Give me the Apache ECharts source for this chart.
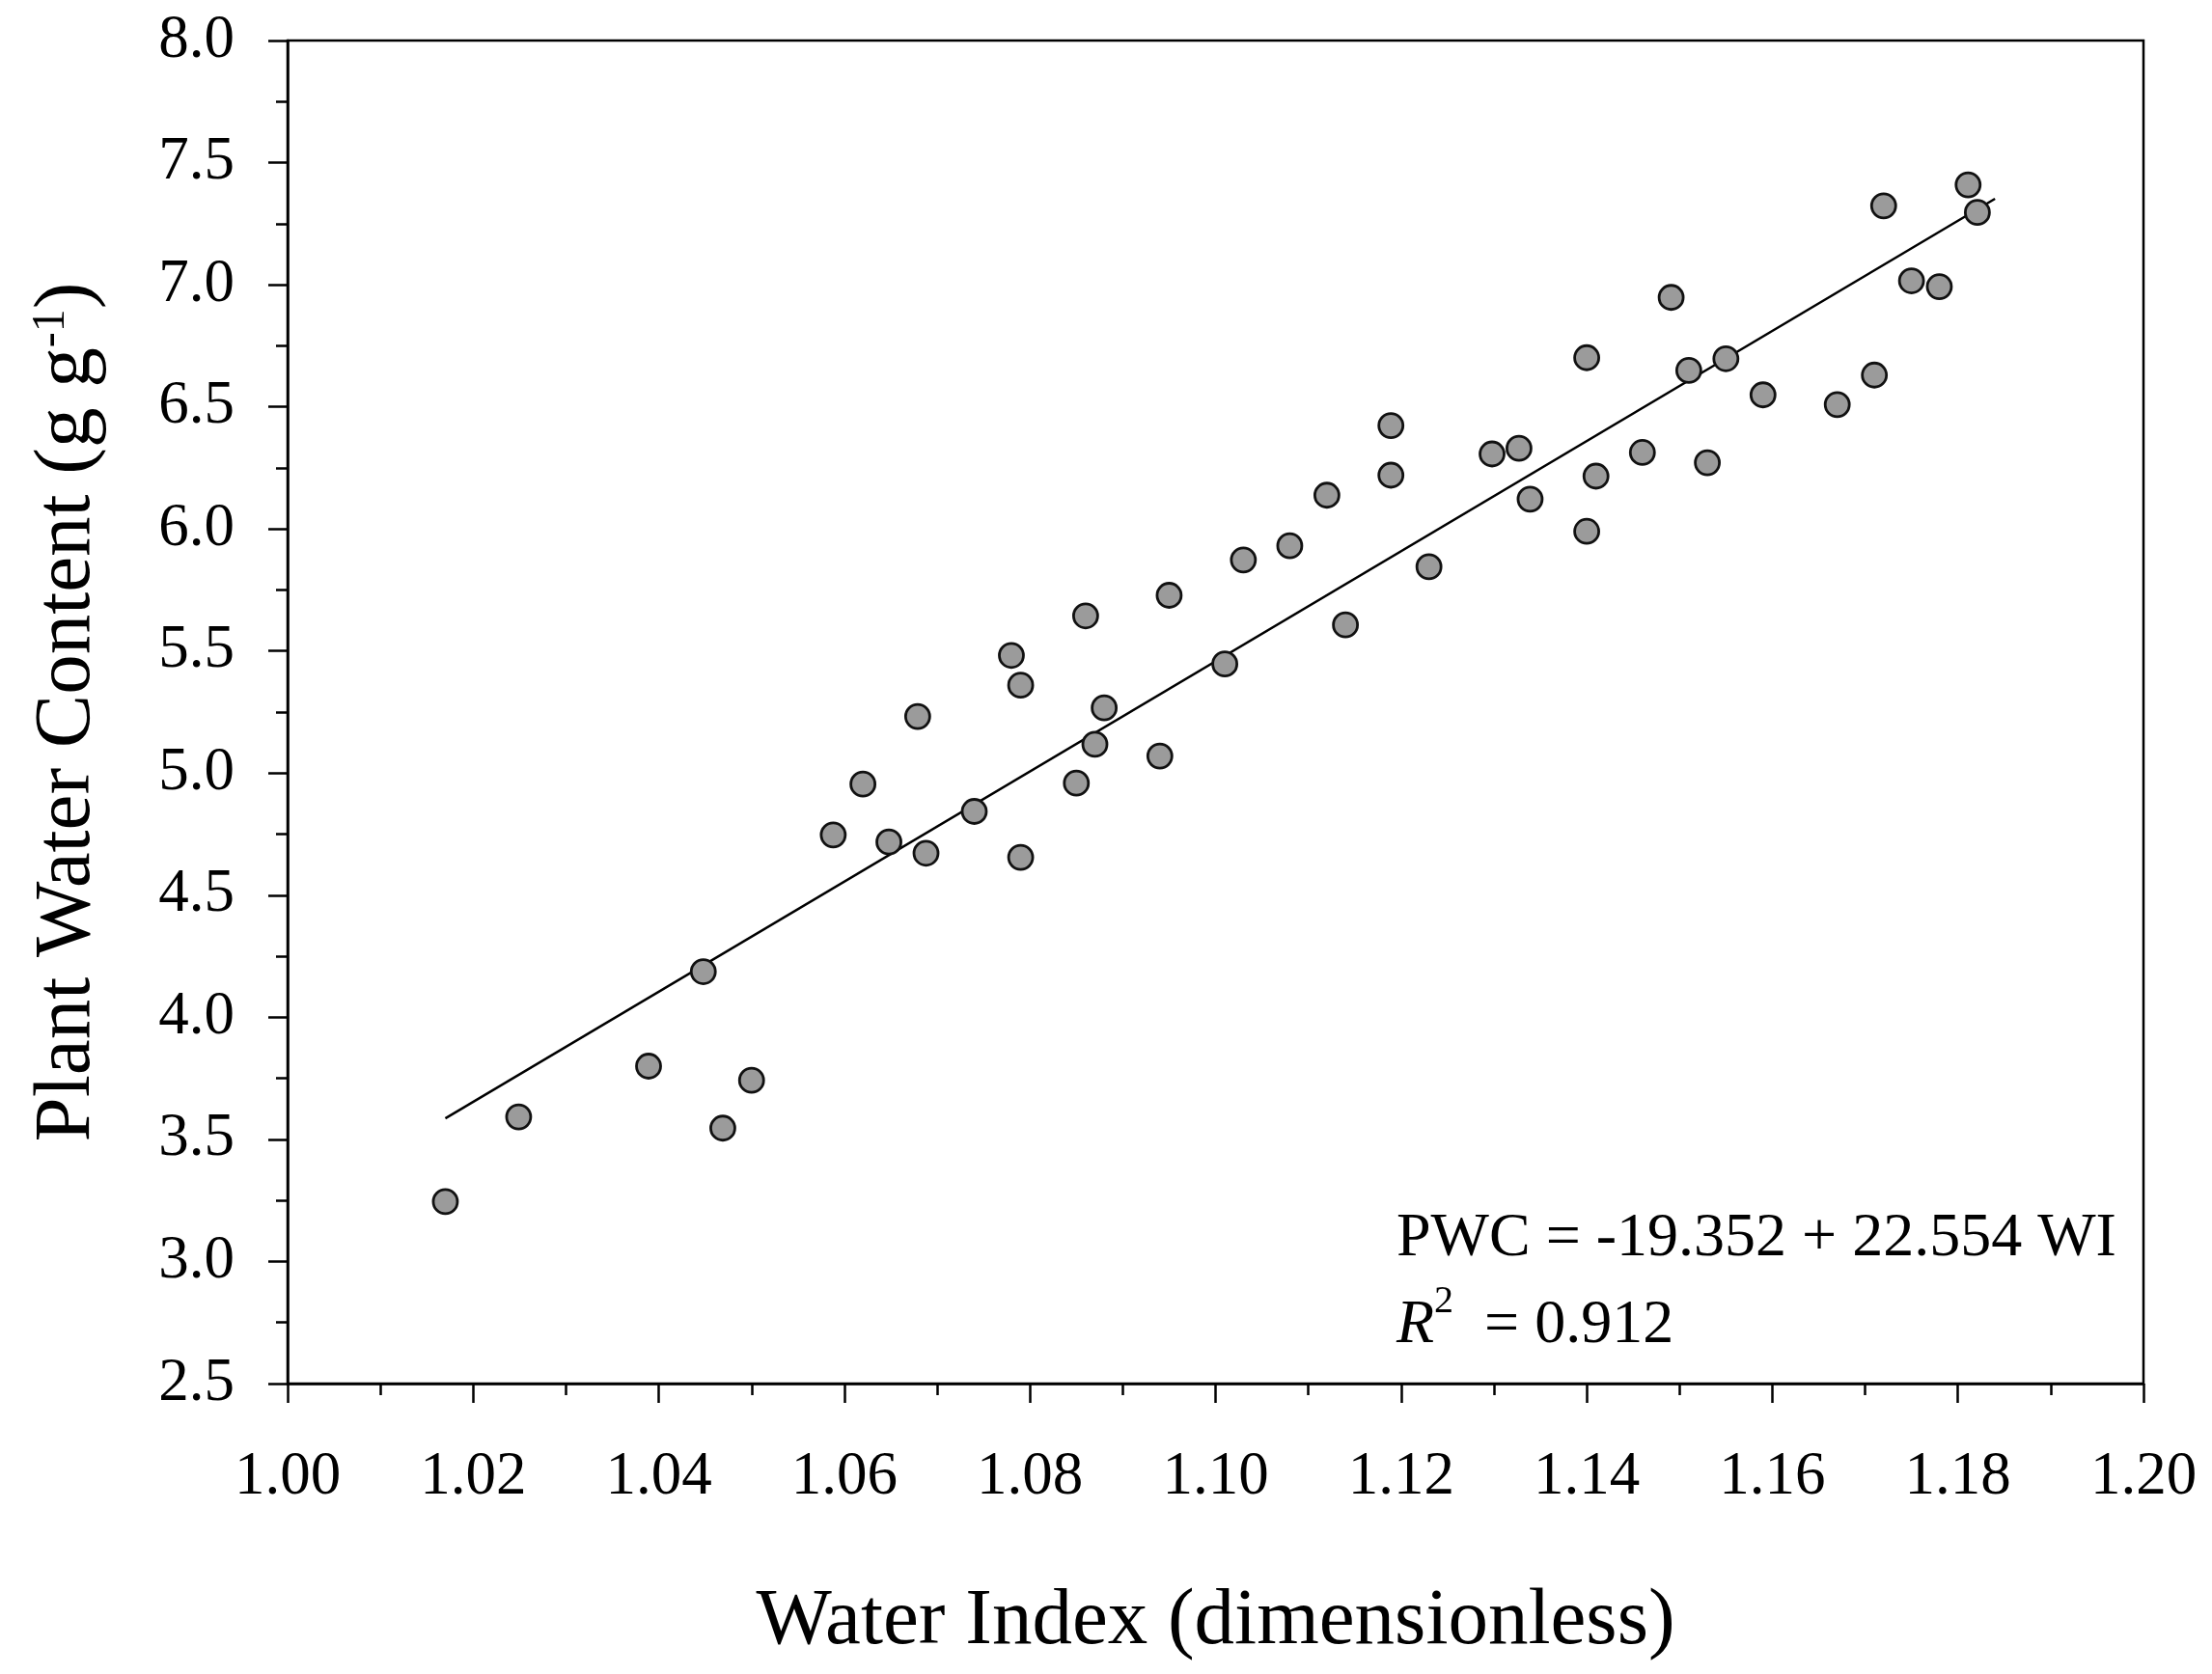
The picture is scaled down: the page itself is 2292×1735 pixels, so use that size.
<!DOCTYPE html>
<html>
<head>
    <meta charset="utf-8">
    <title>Plant Water Content vs Water Index</title>
    <script src="https://cdn.jsdelivr.net/npm/echarts@6/dist/echarts.min.js"></script>
    <style>
        html, body { margin: 0; padding: 0; background: #fff; }
        #main { width: 2292px; height: 1735px; }
    </style>
</head>
<body>
    <div id="main"></div>
    <script>
        // water index (x) and plant water content (y)
        var wi = [1.0170, 1.0249, 1.0389, 1.0448, 1.0469, 1.0500, 1.0588, 1.0620, 1.0648, 1.0679,
                  1.0688, 1.0740, 1.0780, 1.0790, 1.0790, 1.0850, 1.0860, 1.0870, 1.0880, 1.0940,
                  1.0950, 1.1010, 1.1030, 1.1080, 1.1120, 1.1140, 1.1189, 1.1189, 1.1230, 1.1298,
                  1.1327, 1.1339, 1.1400, 1.1400, 1.1410, 1.1460, 1.1491, 1.1510, 1.1530, 1.1550,
                  1.1590, 1.1670, 1.1710, 1.1720, 1.1750, 1.1780, 1.1811, 1.1821];
        var pwc = [3.245, 3.592, 3.800, 4.187, 3.546, 3.742, 4.747, 4.955, 4.718, 5.232,
                   4.672, 4.843, 5.482, 5.360, 4.655, 4.959, 5.644, 5.118, 5.267, 5.070,
                   5.728, 5.447, 5.873, 5.931, 6.138, 5.607, 6.423, 6.220, 5.845, 6.307,
                   6.330, 6.122, 6.701, 5.990, 6.216, 6.313, 6.948, 6.649, 6.271, 6.697,
                   6.549, 6.509, 6.630, 7.323, 7.016, 6.992, 7.409, 7.296];

        // fitted line end points
        var fitX = [1.017, 1.184];
        var fitY = [3.586, 7.352];

        // axis ticks
        var xTicks = [1.00, 1.02, 1.04, 1.06, 1.08, 1.10, 1.12, 1.14, 1.16, 1.18, 1.20];
        var yTicks = [2.5, 3.0, 3.5, 4.0, 4.5, 5.0, 5.5, 6.0, 6.5, 7.0, 7.5, 8.0];

        var eqLine = 'PWC = -19.352 + 22.554 WI';
        var r2Text = '  = 0.912';

        var FONT = '"Liberation Serif", "Times New Roman", serif';

        var points = wi.map(function (x, i) { return [x, pwc[i]]; });
        var fitLine = fitX.map(function (x, i) { return [x, fitY[i]]; });

        var myChart = echarts.init(document.getElementById('main'));
        myChart.setOption({
            animation: false,
            backgroundColor: '#fff',
            grid: {
                left: 298, top: 42, width: 1923, height: 1392,
                show: true, borderColor: '#000', borderWidth: 2.5, backgroundColor: 'transparent'
            },
            xAxis: {
                type: 'value',
                min: xTicks[0], max: xTicks[xTicks.length - 1], interval: 0.02,
                name: 'Water Index (dimensionless)',
                nameLocation: 'middle', nameGap: 206,
                nameTextStyle: { fontFamily: FONT, fontSize: 83, color: '#000' },
                axisLine: { onZero: false, lineStyle: { color: '#000', width: 2.5 } },
                axisTick: { show: true, inside: false, length: 20, lineStyle: { color: '#000', width: 2.5 } },
                minorTick: { show: true, splitNumber: 2, length: 12, lineStyle: { color: '#000', width: 2.5 } },
                splitLine: { show: false },
                axisLabel: {
                    margin: 66, fontFamily: FONT, fontSize: 63, color: '#000',
                    formatter: function (v) { return v.toFixed(2); }
                }
            },
            yAxis: {
                type: 'value',
                min: yTicks[0], max: yTicks[yTicks.length - 1], interval: 0.5,
                name: '{a|Plant Water Content (g g}{b|-1}{a|)}',
                nameLocation: 'middle', nameGap: 186,
                nameTextStyle: {
                    fontFamily: FONT, fontSize: 83, color: '#000',
                    rich: {
                        a: { fontFamily: FONT, fontSize: 83, color: '#000' },
                        b: { fontFamily: FONT, fontSize: 48, color: '#000', verticalAlign: 'top', padding: [0, 0, 34, 0] }
                    }
                },
                axisLine: { onZero: false, lineStyle: { color: '#000', width: 2.5 } },
                axisTick: { show: true, inside: false, length: 20, lineStyle: { color: '#000', width: 2.5 } },
                minorTick: { show: true, splitNumber: 2, length: 12, lineStyle: { color: '#000', width: 2.5 } },
                splitLine: { show: false },
                axisLabel: {
                    margin: 55, fontFamily: FONT, fontSize: 63, color: '#000',
                    formatter: function (v) { return v.toFixed(1); }
                }
            },
            graphic: [{
                type: 'text',
                left: 1447, top: 1252,
                style: {
                    text: '{n|' + eqLine + '}\n{i|R}{s|2}{n|' + r2Text + '}',
                    rich: {
                        n: { fontFamily: FONT, fontSize: 64, color: '#000', lineHeight: 90 },
                        i: { fontFamily: FONT, fontSize: 64, fontStyle: 'italic', color: '#000', lineHeight: 90 },
                        s: { fontFamily: FONT, fontSize: 40, color: '#000', lineHeight: 90, verticalAlign: 'top', padding: [0, 0, 36, 0] }
                    }
                }
            }],
            series: [{
                type: 'line',
                data: fitLine,
                showSymbol: false,
                lineStyle: { color: '#000', width: 2.5 },
                z: 2
            }, {
                type: 'scatter',
                data: points,
                symbol: 'circle',
                symbolSize: 25,
                itemStyle: { color: '#9b9b9b', borderColor: '#111', borderWidth: 2.8, opacity: 1 },
                z: 3
            }]
        });
    </script>
</body>
</html>
